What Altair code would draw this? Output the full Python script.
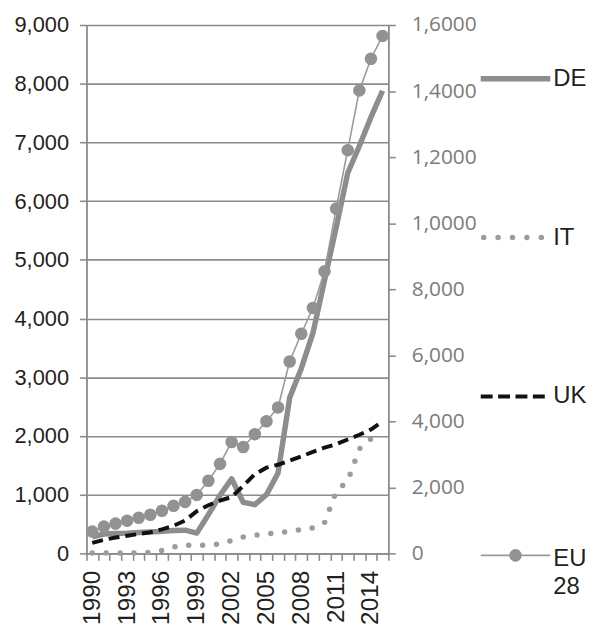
import altair as alt
import pandas as pd

# ---------------- data ----------------
years = list(range(1990, 2016))
de = [280, 330, 340, 345, 355, 365, 375, 390, 395, 345, 660, 990, 1270, 870, 830, 1000, 1370,
      2650, 3150, 3750, 4650, 5550, 6480, 6940, 7430, 7880]
it = [5, 5, 5, 5, 10, 15, 50, 110, 140, 130, 150, 160, 220, 280, 310, 330, 350,
      375, 405, 435, 520, 1050, 1235, 1780, 1950, 2050]
uk = [180, 230, 270, 300, 330, 360, 410, 470, 560, 720, 820, 900, 960, 1150, 1350, 1460, 1510,
      1580, 1650, 1730, 1800, 1860, 1940, 2020, 2110, 2250]
eu28 = [660, 810, 900, 990, 1080, 1170, 1290, 1440, 1560, 1770, 2200, 2710, 3370, 3220, 3610,
        4000, 4420, 5810, 6650, 7430, 8540, 10440, 12210, 14020, 14980, 15670]

x_tick_labels = ["1990", "1993", "1996", "1999", "2002", "2005", "2008", "2011", "2014"]
left_tick_values = [0, 1000, 2000, 3000, 4000, 5000, 6000, 7000, 8000, 9000]
right_tick_values = [0, 2000, 4000, 6000, 8000, 10000, 12000, 14000, 16000]
right_tick_labels = ["0", "2,000", "4,000", "6,000", "8,000", "1,0000", "1,2000", "1,4000", "1,6000"]
legend_names = ["DE", "IT", "UK", "EU28"]
legend_labels = ["DE", "IT", "UK", "EU 28"]

# ---------------- styling ----------------
GRAY = "#8d8d8d"
AXIS_GRAY = "#8c8c8c"
TEXT = "#231f20"
W, H = 304, 532
n_years = len(years)
label_off = W / n_years / 2

df = pd.DataFrame({"year": years, "DE": de, "IT": it, "UK": uk, "EU28": eu28})

boundaries = [years[0] - 0.5 + i for i in range(n_years + 1)]
x_label_expr = ("indexof([" + ",".join("'%s'" % s for s in x_tick_labels) + "], toString(datum.value + 0.5)) >= 0"
                " ? toString(datum.value + 0.5) : ''")

x_enc = alt.X(
    "year:Q",
    scale=alt.Scale(domain=[years[0] - 0.5, years[-1] + 0.5], nice=False, zero=False),
    axis=alt.Axis(
        values=boundaries, labelExpr=x_label_expr, labelAngle=-90, labelOffset=label_off,
        labelOverlap=False, labelFlush=False, grid=False, title=None,
        tickSize=7, tickColor=AXIS_GRAY, tickWidth=1.6,
        domainColor=AXIS_GRAY, domainWidth=1.8,
        labelPadding=10, labelFont="Liberation Sans", labelFontSize=24.5, labelColor=TEXT,
    ),
)

left_scale = alt.Scale(domain=[0, 9000], nice=False)
left_axis = alt.Axis(
    values=left_tick_values, format=",.0f", grid=True, gridColor=AXIS_GRAY, gridWidth=1.6,
    domainColor=AXIS_GRAY, domainWidth=1.8, tickColor=AXIS_GRAY, tickWidth=1.6, tickSize=7,
    labelPadding=11, labelFont="Liberation Sans", labelFontSize=22, labelColor=TEXT, title=None,
)

right_label_expr = "[" + ",".join("'%s'" % s for s in right_tick_labels) + "][datum.value / 2000]"
right_scale = alt.Scale(domain=[0, 16000], nice=False)
right_axis = alt.Axis(
    orient="right", values=right_tick_values, labelExpr=right_label_expr, grid=False,
    domainColor=AXIS_GRAY, domainWidth=1.8, tickColor=AXIS_GRAY, tickWidth=1.6, tickSize=7,
    labelPadding=16, labelFont="Open Sans", labelFontSize=21, labelColor="#7b7b7b", title=None,
)

base = alt.Chart(df)

de_line = base.mark_line(color=GRAY, strokeWidth=5.5, strokeJoin="round").encode(
    x=x_enc, y=alt.Y("DE:Q", scale=left_scale, axis=left_axis))
it_line = base.mark_line(color="#9c9c9c", strokeWidth=5.5, strokeDash=[0, 14], strokeCap="round").encode(
    x=x_enc, y=alt.Y("IT:Q", scale=left_scale, axis=left_axis))
uk_line = base.mark_line(color="#111111", strokeWidth=4, strokeDash=[11, 6]).encode(
    x=x_enc, y=alt.Y("UK:Q", scale=left_scale, axis=left_axis))
left_group = alt.layer(de_line, it_line, uk_line)

eu_line = base.mark_line(color="#9a9a9a", strokeWidth=1.6).encode(
    x=x_enc, y=alt.Y("EU28:Q", scale=right_scale, axis=right_axis))
eu_pts = base.mark_point(filled=True, color="#929292", size=160, opacity=1).encode(
    x=x_enc, y=alt.Y("EU28:Q", scale=right_scale, axis=right_axis))
right_group = alt.layer(eu_line, eu_pts)

# ---------------- legend (drawn right of the plot) ----------------
leg_df = pd.DataFrame({"series": legend_names, "label": legend_labels})
leg_y = alt.Y("series:N", scale=alt.Scale(type="point", domain=legend_names, range=[54, 534], padding=0),
              axis=None)
leg = alt.Chart(leg_df)
sx0, sx1 = W + 93, W + 163
leg_de = leg.transform_filter("datum.series == 'DE'").mark_rule(color=GRAY, strokeWidth=5.5).encode(
    x=alt.value(sx0), x2=alt.value(sx1), y=leg_y)
leg_it = leg.transform_filter("datum.series == 'IT'").mark_rule(
    color="#9c9c9c", strokeWidth=5.5, strokeDash=[0, 14.5], strokeCap="round").encode(
    x=alt.value(sx0 + 3), x2=alt.value(sx1 - 4), y=leg_y)
leg_uk = leg.transform_filter("datum.series == 'UK'").mark_rule(
    color="#111111", strokeWidth=4, strokeDash=[12, 5.5]).encode(
    x=alt.value(sx0), x2=alt.value(sx1 - 3), y=leg_y)
leg_eu = leg.transform_filter("datum.series == 'EU28'").mark_rule(color="#9a9a9a", strokeWidth=1.6).encode(
    x=alt.value(sx0), x2=alt.value(sx1), y=leg_y)
leg_eu_pt = leg.transform_filter("datum.series == 'EU28'").mark_point(
    filled=True, color="#929292", size=160, opacity=1).encode(
    x=alt.value((sx0 + sx1) / 2), y=leg_y)
leg_txt = leg.transform_filter("datum.series != 'EU28'").mark_text(
    align="left", baseline="middle", font="Liberation Sans", fontSize=24, color=TEXT).encode(
    x=alt.value(sx1 + 3), y=leg_y, text="label:N")
leg_txt_eu = leg.transform_filter("datum.series == 'EU28'").mark_text(
    align="left", baseline="middle", font="Liberation Sans", fontSize=24, color=TEXT,
    lineBreak=" ", lineHeight=28, dy=4).encode(
    x=alt.value(sx1 + 3), y=leg_y, text="label:N")
legend_group = alt.layer(leg_de, leg_it, leg_uk, leg_eu, leg_eu_pt, leg_txt, leg_txt_eu)

chart = alt.layer(left_group, right_group, legend_group).resolve_scale(y="independent").properties(
    width=W, height=H, padding={"left": 5, "top": 4, "right": 0, "bottom": 0}
).configure_view(stroke=None).configure(background="white")

chart.save("out.html", embed_options={"renderer": "svg", "actions": False})
